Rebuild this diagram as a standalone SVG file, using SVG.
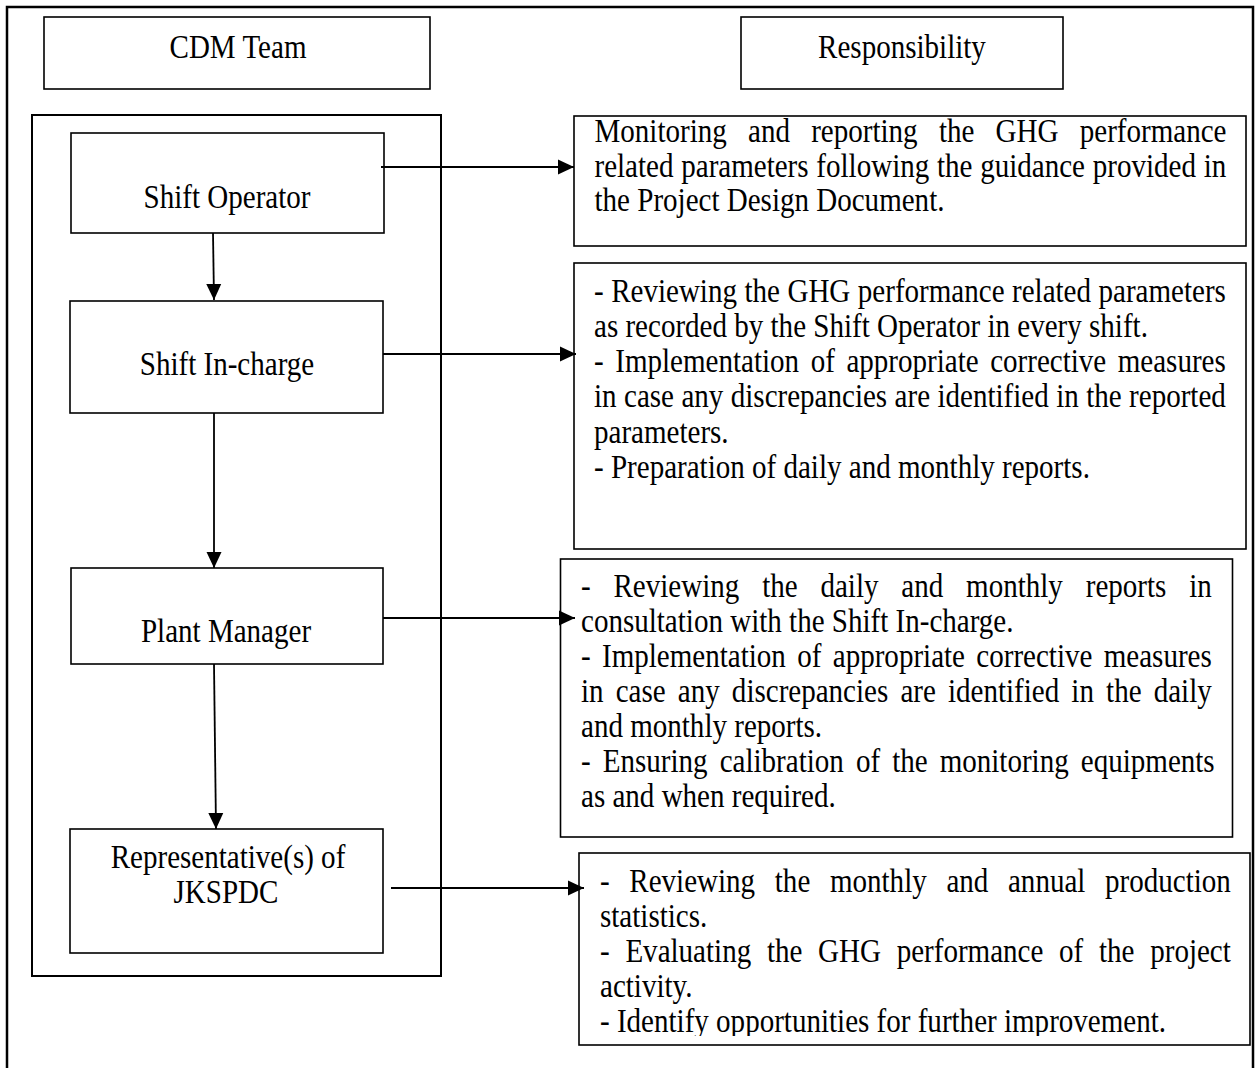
<svg xmlns="http://www.w3.org/2000/svg" width="1257" height="1068" viewBox="0 0 1257 1068">
<defs>
<style>
.box{fill:#fff;stroke:#000;stroke-width:1.6}
.outer{fill:none;stroke:#000;stroke-width:2.5}
.inner{fill:none;stroke:#000;stroke-width:2}
.t{font-family:"Liberation Serif","Times New Roman",serif;font-size:33px;fill:#000}
.c{text-anchor:middle}
.conn{stroke:#000;stroke-width:1.8;fill:none;marker-end:url(#ah)}
</style>
<marker id="ah" markerUnits="userSpaceOnUse" markerWidth="16" markerHeight="16" refX="16" refY="8" orient="auto" viewBox="0 0 16 16"><path d="M0,0.5 L16,8 L0,15.5 z" fill="#000"/></marker>
<clipPath id="clip4"><rect x="579" y="853" width="671" height="183"/></clipPath>
</defs>
<rect id="background" x="0" y="0" width="1257" height="1068" fill="#fff"/>
<rect id="outer-frame" class="outer" x="7" y="7" width="1246" height="1100"/>
<rect id="team-frame" class="inner" x="32" y="115" width="409" height="861"/>

<g id="cdm-team">
<rect class="box" x="44" y="17" width="386" height="72"/>
<text class="t c" transform="translate(238,58) scale(0.88,1)">CDM Team</text>
</g>
<g id="responsibility">
<rect class="box" x="741" y="17" width="322" height="72"/>
<text class="t c" transform="translate(902,58) scale(0.88,1)">Responsibility</text>
</g>

<g id="shift-operator">
<rect class="box" x="71" y="133" width="313" height="100"/>
<text class="t c" transform="translate(227,208) scale(0.88,1)">Shift Operator</text>
</g>
<g id="shift-incharge">
<rect class="box" x="70" y="301" width="313" height="112"/>
<text class="t c" transform="translate(227,375) scale(0.88,1)">Shift In-charge</text>
</g>
<g id="plant-manager">
<rect class="box" x="71" y="568" width="312" height="96"/>
<text class="t c" transform="translate(226,642) scale(0.88,1)">Plant Manager</text>
</g>
<g id="representative">
<rect class="box" x="70" y="829" width="313" height="124"/>
<text class="t c" transform="translate(228,868) scale(0.88,1)">Representative(s) of</text>
<text class="t c" transform="translate(226,903) scale(0.88,1)">JKSPDC</text>
</g>

<g id="resp-shift-operator">
<rect class="box" x="574" y="116" width="672" height="130"/>
<g transform="translate(594.5,0) scale(0.88,1)">
<text class="t" x="0" y="142" style="word-spacing:15.9px">Monitoring and reporting the GHG performance</text>
<text class="t" x="0" y="177" style="word-spacing:0.55px">related parameters following the guidance provided in</text>
<text class="t" x="0" y="211">the Project Design Document.</text>
</g>
</g>

<g id="resp-shift-incharge">
<rect class="box" x="574" y="263" width="672" height="286"/>
<g transform="translate(594,0) scale(0.88,1)">
<text class="t" x="0" y="302" style="word-spacing:0.27px">- Reviewing the GHG performance related parameters</text>
<text class="t" x="0" y="337">as recorded by the Shift Operator in every shift.</text>
<text class="t" x="0" y="372" style="word-spacing:4.89px">- Implementation of appropriate corrective measures</text>
<text class="t" x="0" y="407" style="word-spacing:0.2px">in case any discrepancies are identified in the reported</text>
<text class="t" x="0" y="443">parameters.</text>
<text class="t" x="0" y="478">- Preparation of daily and monthly reports.</text>
</g>
</g>

<g id="resp-plant-manager">
<rect class="box" x="560.5" y="559" width="672" height="278"/>
<g transform="translate(581,0) scale(0.88,1)">
<text class="t" x="0" y="597" style="word-spacing:17.7px">- Reviewing the daily and monthly reports in</text>
<text class="t" x="0" y="632">consultation with the Shift In-charge.</text>
<text class="t" x="0" y="667" style="word-spacing:4.66px">- Implementation of appropriate corrective measures</text>
<text class="t" x="0" y="702" style="word-spacing:5.54px">in case any discrepancies are identified in the daily</text>
<text class="t" x="0" y="737">and monthly reports.</text>
<text class="t" x="0" y="772" style="word-spacing:5.47px">- Ensuring calibration of the monitoring equipments</text>
<text class="t" x="0" y="807">as and when required.</text>
</g>
</g>

<g id="resp-representative">
<rect class="box" x="579" y="853" width="671" height="192"/>
<g clip-path="url(#clip4)">
<g transform="translate(600,0) scale(0.88,1)">
<text class="t" x="0" y="892" style="word-spacing:14.1px">- Reviewing the monthly and annual production</text>
<text class="t" x="0" y="927">statistics.</text>
<text class="t" x="0" y="962" style="word-spacing:9.61px">- Evaluating the GHG performance of the project</text>
<text class="t" x="0" y="997">activity.</text>
<text class="t" x="0" y="1032">- Identify opportunities for further improvement.</text>
</g>
</g>
</g>

<g id="connectors">
<line class="conn" x1="213" y1="233" x2="214" y2="300"/>
<line class="conn" x1="214" y1="413" x2="214" y2="568"/>
<line class="conn" x1="214" y1="664" x2="216" y2="829"/>
<line class="conn" x1="381" y1="167" x2="574" y2="167"/>
<line class="conn" x1="383" y1="354" x2="576" y2="354"/>
<line class="conn" x1="383" y1="618" x2="575" y2="618"/>
<line class="conn" x1="391" y1="888" x2="584" y2="888"/>
</g>
</svg>
